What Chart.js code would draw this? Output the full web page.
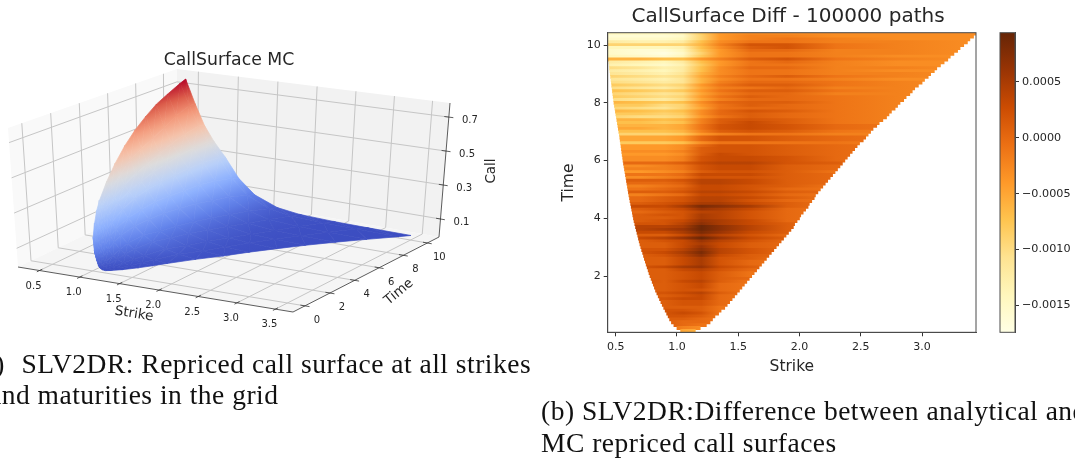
<!DOCTYPE html>
<html lang="en">
<head>
  <meta charset="UTF-8">
  <title>CallSurface</title>
  <script src="https://cdn.jsdelivr.net/npm/chart.js"></script>
  <style>
    body, html { margin: 0; padding: 0; overflow: hidden; height: 100%; width: 100%; background: #fff; }
    canvas { position: absolute; display: block; filter: blur(0.4px); }
    .caption {
      position: absolute;
      white-space: nowrap;
      font-family: "Liberation Serif", serif;
      font-size: 27.5px;
      letter-spacing: 0.5px;
      line-height: 30px;
      color: #111;
      filter: blur(0.3px);
    }
  </style>
</head>
<body>
  <canvas id="surface" width="530" height="345" style="left:0;top:0"></canvas>
  <canvas id="diff" width="430" height="380" style="left:560px;top:0"></canvas>
  <canvas id="colorbar" width="85" height="380" style="left:990px;top:0"></canvas>
  <div class="caption" style="left:-27px;top:349px"><span style="word-spacing:9px">(a) </span>SLV2DR: Repriced call surface at all strikes</div>
  <div class="caption" style="left:-11px;top:380px">and maturities in the grid</div>
  <div class="caption" style="left:541px;top:396px">(b) SLV2DR:Difference between analytical and</div>
  <div class="caption" style="left:541px;top:428px">MC repriced call surfaces</div>

  <script>
    const strikeTicks = [0.5, 1.0, 1.5, 2.0, 2.5, 3.0];
    const timeTicks = [2, 4, 6, 8, 10];
    const colorbarTicks = [0.0005, 0, -0.0005, -0.001, -0.0015];

    // 3d axis ticks
    const surfaceStrikeTicks = [0.5, 1.0, 1.5, 2.0, 2.5, 3.0, 3.5];
    const surfaceTimeTicks = [0, 2, 4, 6, 8, 10];
    const surfaceCallTicks = [0.1, 0.3, 0.5, 0.7];

    // Time of each heatmap row, top to bottom
    const rowTimes = [10.4,10.3,10.2,10.1,10.0,9.9,9.8,9.7,9.6,9.5,9.4,9.3,9.2,9.1,9.0,8.9,8.8,8.7,8.6,8.5,8.4,8.3,8.2,8.1,8.0,
      7.9,7.8,7.7,7.6,7.5,7.4,7.3,7.2,7.1,7.0,6.9,6.8,6.7,6.6,6.5,6.4,6.3,6.2,6.1,6.0,5.9,5.8,5.7,5.6,5.5,5.4,5.3,5.2,5.1,5.0,
      4.9,4.8,4.7,4.6,4.5,4.4,4.3,4.2,4.1,4.0,3.9,3.8,3.7,3.6,3.5,3.4,3.3,3.2,3.1,3.0,2.9,2.8,2.7,2.6,2.5,2.4,2.3,2.2,2.1,2.0,
      1.9,1.8,1.7,1.6,1.5,1.4,1.3,1.2,1.1,1.0,0.9,0.8,0.7,0.6,0.5,0.4,0.3,0.2,0.1];

    // Lowest and highest strike on each row
    const rowLow = [.44,.44,.44,.44,.44,.44,.44,.44,.44,.44,.445,.448,.45,.453,.456,.459,.462,.465,.468,.471,.474,.477,.48,.483,.486,
      .49,.494,.498,.502,.506,.51,.514,.518,.522,.526,.53,.534,.537,.54,.544,.547,.55,.553,.557,.56,.564,.568,.572,.576,.58,.584,.588,.592,.596,.60,
      .604,.608,.613,.617,.622,.627,.631,.636,.64,.645,.65,.656,.662,.668,.674,.68,.686,.692,.698,.705,.712,.72,.727,.734,.742,.749,.757,.765,.772,.78,
      .789,.798,.807,.816,.825,.836,.847,.858,.869,.88,.892,.904,.916,.928,.94,.955,.975,1.0,1.03];
    const rowHigh = [3.44,3.42,3.39,3.37,3.34,3.31,3.29,3.26,3.23,3.21,3.18,3.15,3.12,3.10,3.07,3.05,3.02,3.0,2.97,2.94,2.92,2.90,2.87,2.85,2.82,
      2.80,2.78,2.75,2.73,2.71,2.68,2.65,2.63,2.60,2.58,2.56,2.54,2.52,2.49,2.47,2.45,2.43,2.41,2.39,2.37,2.35,2.33,2.31,2.29,2.27,2.25,2.23,2.21,2.19,2.17,
      2.15,2.13,2.12,2.10,2.08,2.07,2.05,2.03,2.01,2.0,1.98,1.96,1.95,1.93,1.91,1.89,1.87,1.85,1.83,1.81,1.79,1.77,1.75,1.73,1.71,1.69,1.67,1.65,1.63,1.61,
      1.59,1.57,1.55,1.53,1.51,1.49,1.47,1.45,1.43,1.41,1.39,1.36,1.34,1.31,1.29,1.27,1.24,1.19,1.15];

    // Strikes of the diff columns
    const diffStrikes = [0.45, 0.7, 0.9, 1.05, 1.2, 1.35, 1.6, 1.9, 2.3, 2.8, 3.44];

    // Diff values in units of 1e-4, one line per row of rowTimes
    const diffRows = [
      [-14,-14,-14,-13,-8,-4,-3,-3,-3,-3,-3],
      [-16,-16,-16,-15,-9,-4,-2,-2,-3,-3,-3],
      [-15,-15,-15,-14,-9,-4,-2,-1,-2,-3,-3],
      [-12,-13,-13,-12,-7,-3,-1,-1,-2,-2,-3],
      [-9,-9,-9,-9,-6,-2,2,2,-1,-2,-3],
      [-14,-14,-14,-13,-7,-3,1,2,-1,-2,-3],
      [-15,-16,-16,-14,-8,-4,0,0,-2,-2,-3],
      [-15,-16,-17,-15,-9,-4,-1,-1,-2,-2,-3],
      [-14,-15,-16,-14,-8,-4,-1,-1,-2,-3,-3],
      [-6,-6,-7,-7,-4,-2,1,2,-1,-2,-3],
      [-12,-13,-14,-12,-7,-4,-1,0,-2,-3,-3],
      [-13,-14,-15,-13,-8,-4,-1,-1,-2,-3,-3],
      [-10,-11,-13,-12,-7,-3,0,0,-2,-2,-3],
      [-12,-13,-14,-12,-7,-3,-1,-1,-2,-3,-3],
      [-11,-12,-13,-11,-6,-3,-1,-1,-2,-2,-3],
      [-9,-10,-11,-10,-5,-2,0,1,-1,-2,-3],
      [-11,-12,-13,-11,-6,-3,-1,-1,-2,-3,-3],
      [-10,-11,-12,-11,-6,-2,0,0,-1,-2,-3],
      [-8,-9,-10,-9,-4,-1,1,1,-1,-2,-3],
      [-10,-11,-12,-10,-5,-2,-1,0,-2,-2,-3],
      [-7,-8,-9,-8,-4,-1,1,1,-1,-2,-3],
      [-9,-10,-11,-10,-5,-2,0,0,-2,-2,-3],
      [-8,-9,-10,-9,-4,-1,1,0,-1,-2,-3],
      [-10,-11,-12,-10,-5,-2,0,0,-1,-2,-3],
      [-6,-7,-8,-7,-3,0,1,1,-1,-2,-3],
      [-8,-8,-10,-9,-4,-1,1,0,-1,-2,-3],
      [-9,-10,-11,-9,-5,-1,0,0,-1,-2,-3],
      [-6,-7,-8,-7,-3,0,2,1,-1,-2,-3],
      [-8,-8,-9,-8,-3,0,1,0,-1,-2,-3],
      [-9,-10,-10,-9,-4,-1,1,0,-1,-2,-3],
      [-6,-6,-7,-6,-2,1,2,1,-1,-2,-3],
      [-7,-7,-8,-7,-2,1,3,1,-1,-2,-3],
      [-6,-6,-6,-5,-1,2,3,2,0,-1,-3],
      [-5,-5,-6,-5,-1,2,3,2,0,-1,-3],
      [-7,-7,-7,-6,-2,1,2,1,-1,-2,-3],
      [-9,-9,-9,-8,-4,-2,-1,-1,-2,-2,-3],
      [-5,-5,-5,-4,0,2,2,1,0,-1,-3],
      [-5,-5,-5,-4,0,2,2,1,0,-1,-3],
      [-8,-8,-8,-7,-3,-1,-1,-1,-1,-2,-3],
      [-4,-4,-4,-3,0,2,2,1,0,-1,-3],
      [-4,-4,-4,-3,1,2,2,1,0,-1,-3],
      [-3,-3,-3,-2,1,2,2,1,0,-1,-3],
      [-4,-4,-4,-3,1,3,2,1,0,-1,-3],
      [-3,-3,-3,-2,2,3,3,2,0,-1,-3],
      [-3,-3,-3,-2,2,3,3,2,0,-1,-3],
      [0,0,0,1,3,4,4,2,1,-1,-3],
      [-3,-3,-2,-1,2,3,3,1,0,-1,-3],
      [-2,-2,-2,-1,2,3,3,1,0,-1,-3],
      [-4,-4,-3,-2,1,2,2,1,-1,-1,-3],
      [-1,-1,-1,0,3,3,3,1,0,-1,-3],
      [-3,-3,-2,-1,2,2,2,1,0,-1,-3],
      [1,1,1,2,4,4,3,1,0,-1,-3],
      [0,0,0,1,4,4,3,1,0,-1,-3],
      [-2,-2,-1,0,3,3,2,1,-1,-1,-3],
      [-1,-1,0,1,3,3,2,0,-1,-1,-3],
      [1,1,1,2,4,4,3,1,0,-1,-3],
      [-2,-2,-1,0,3,3,2,0,-1,-1,-3],
      [0,0,1,2,4,4,3,1,-1,-1,-3],
      [0,0,1,2,4,4,2,0,-1,-1,-3],
      [1,1,2,3,5,5,3,1,-1,-1,-3],
      [3,3,3,5,8,7,5,1,-1,-1,-3],
      [1,1,2,3,6,5,3,0,-1,-1,-3],
      [0,0,1,2,4,4,2,0,-1,-1,-3],
      [1,1,2,2,5,4,2,0,-1,-1,-3],
      [0,1,1,2,5,4,2,0,-1,-1,-3],
      [1,1,2,3,6,5,3,0,-1,-1,-3],
      [2,2,2,4,7,5,3,1,-1,-1,-3],
      [3,4,4,5,9,7,4,1,-1,-1,-3],
      [4,4,5,6,9,7,4,1,-1,-1,-3],
      [2,3,3,5,8,6,3,1,-1,-1,-3],
      [0,1,1,3,6,4,2,0,-1,-2,-3],
      [3,3,4,6,9,6,3,1,-1,-1,-3],
      [1,1,2,3,6,4,2,0,-1,-2,-3],
      [1,1,1,3,5,3,1,0,-1,-2,-3],
      [1,1,1,3,6,3,1,0,-1,-2,-3],
      [2,2,2,4,7,4,2,0,-1,-2,-3],
      [2,2,3,5,8,4,2,0,-1,-2,-3],
      [1,1,2,4,7,3,1,0,-1,-2,-3],
      [1,1,1,3,5,2,1,-1,-1,-2,-3],
      [1,1,1,3,5,2,0,-1,-1,-2,-3],
      [1,1,1,3,5,2,0,-1,-1,-2,-3],
      [2,2,3,5,6,3,1,-1,-1,-2,-3],
      [1,1,1,3,4,2,0,-1,-2,-2,-3],
      [1,1,1,2,3,1,-1,-1,-2,-2,-3],
      [1,1,1,2,3,1,-1,-1,-2,-2,-3],
      [1,1,1,2,3,1,0,-1,-2,-2,-3],
      [2,2,1,3,4,1,-1,-1,-2,-2,-3],
      [1,1,1,2,3,0,-1,-1,-2,-2,-3],
      [1,1,1,2,3,0,-1,-1,-2,-2,-3],
      [1,1,1,2,2,0,-1,-1,-2,-2,-3],
      [2,2,2,3,4,1,-1,-1,-2,-2,-3],
      [1,1,1,2,3,0,-1,-1,-2,-2,-3],
      [2,2,2,3,3,0,-1,-1,-2,-2,-3],
      [1,1,1,2,2,0,-1,-1,-2,-2,-3],
      [1,1,1,2,2,0,-1,-1,-2,-2,-3],
      [1,1,1,1,1,-1,-1,-1,-2,-2,-3],
      [2,2,2,2,1,-1,-1,-1,-2,-2,-3],
      [2,2,2,3,2,-1,-1,-1,-2,-2,-3],
      [2,2,2,2,1,-1,-1,-1,-2,-2,-3],
      [1,1,1,1,0,-1,-1,-1,-2,-2,-3],
      [1,1,1,0,0,-1,-1,-1,-2,-2,-3],
      [1,1,1,0,-1,-1,-1,-1,-2,-2,-3],
      [1,1,0,-2,-3,-2,-1,-1,-2,-2,-3],
      [1,1,-1,-5,-6,-3,-1,-1,-2,-2,-3]
    ];

    // Call surface, sampled at these times and at these fractions of the way from rowLow to rowHigh
    const surfaceTimes = [10.4, 10, 9, 8, 7, 6, 5, 4, 3, 2, 1.5, 1, 0.5, 0.2, 0.1];
    const surfaceFractions = [0, .04, .08, .12, .17, .23, .3, .4, .5, .65, .8, 1];
    const surfaceCalls = [
      [.75,.60,.47,.38,.29,.17,.085,.03,.012,.005,.003,.002],
      [.735,.60,.48,.39,.30,.185,.095,.035,.014,.006,.003,.002],
      [.70,.57,.46,.38,.305,.20,.115,.05,.02,.008,.004,.002],
      [.67,.53,.44,.37,.30,.21,.125,.06,.026,.01,.005,.003],
      [.63,.50,.41,.355,.295,.21,.14,.07,.035,.013,.007,.003],
      [.58,.47,.385,.34,.285,.21,.145,.08,.045,.02,.009,.004],
      [.52,.44,.36,.32,.275,.21,.15,.085,.055,.025,.012,.005],
      [.45,.385,.33,.295,.26,.20,.15,.09,.06,.03,.015,.007],
      [.38,.33,.295,.265,.23,.185,.145,.10,.07,.04,.022,.01],
      [.31,.28,.25,.225,.195,.16,.125,.085,.058,.03,.017,.008],
      [.27,.245,.22,.195,.17,.135,.105,.07,.047,.025,.013,.006],
      [.22,.2,.175,.155,.13,.105,.08,.052,.034,.018,.009,.005],
      [.16,.145,.125,.11,.09,.07,.052,.033,.02,.01,.006,.004],
      [.10,.09,.08,.068,.054,.04,.028,.017,.01,.005,.004,.003],
      [.08,.07,.063,.053,.043,.032,.022,.013,.008,.005,.004,.003]
    ];

    const diffMin = -0.00174, diffMax = 0.00094;
    const ylOrBr = ['#ffffe5','#fff7bc','#fee391','#fec44f','#fe9929','#ec7014','#cc4c02','#993404','#662506'];
    const coolwarm = ['#3b4cc0','#6282ea','#8db0fe','#b9d0f9','#dddcdc','#f5c4ac','#f49a7b','#dc5d4a','#b40426'];
    const textColor = '#262626';
    const fontFamily = '"DejaVu Sans"';

    function hexRgb(h) {
      return [1, 3, 5].map(i => parseInt(h.substr(i, 2), 16));
    }

    function colorAt(map, t) {
      t = Math.min(1, Math.max(0, t));
      const p = t * (map.length - 1);
      const i = Math.min(map.length - 2, Math.floor(p));
      const a = hexRgb(map[i]), b = hexRgb(map[i + 1]);
      const f = p - i;
      return `rgb(${a.map((v, k) => Math.round(v + (b[k] - v) * f)).join(',')})`;
    }

    // ---------- Left: 3d surface, projected onto a hidden x/y scale ----------

    const strikeRange = [0.234, 3.73], timeRange = [-0.95, 10.98], callRange = [-0.006, 0.783];
    // Corners of the floor and of the roof of the box: front left, front right, back right, back left
    const floorCorners = [[18, 267], [293, 312], [439, 237], [177, 191]];
    const roofCorners = [[8, 128], [294, 161], [450, 103], [177, 69]];

    function squareToQuad(q) {
      const [[x0, y0], [x1, y1], [x2, y2], [x3, y3]] = q;
      const dx1 = x1 - x2, dx2 = x3 - x2, sx = x0 - x1 + x2 - x3;
      const dy1 = y1 - y2, dy2 = y3 - y2, sy = y0 - y1 + y2 - y3;
      const det = dx1 * dy2 - dx2 * dy1;
      const g = (sx * dy2 - dx2 * sy) / det;
      const h = (dx1 * sy - sx * dy1) / det;
      const a = x1 - x0 + g * x1, b = x3 - x0 + h * x3;
      const d = y1 - y0 + g * y1, e = y3 - y0 + h * y3;
      return (u, v) => {
        const w = g * u + h * v + 1;
        return [(a * u + b * v + x0) / w, (d * u + e * v + y0) / w];
      };
    }

    const floorMap = squareToQuad(floorCorners);
    const roofMap = squareToQuad(roofCorners);

    // strike, time, call -> x, y on the hidden scales
    function project(k, t, c) {
      const u = (k - strikeRange[0]) / (strikeRange[1] - strikeRange[0]);
      const v = (t - timeRange[0]) / (timeRange[1] - timeRange[0]);
      const w = (c - callRange[0]) / (callRange[1] - callRange[0]);
      const f = floorMap(u, v), r = roofMap(u, v);
      return { x: f[0] + (r[0] - f[0]) * w, y: f[1] + (r[1] - f[1]) * w };
    }

    function lineSet(points, color, width) {
      return { data: points, borderColor: color, borderWidth: width, fill: false };
    }

    function paneSet(points, color) {
      return { data: points.concat([points[0]]), backgroundColor: color, borderColor: color, borderWidth: 0, fill: 'shape' };
    }

    const [k0, k1] = strikeRange, [t0, t1] = timeRange, [c0, c1] = callRange;
    const gridColor = '#c6c6c6', axisColor = '#333333';
    const surfaceSets = [
      paneSet([project(k0, t0, c0), project(k0, t1, c0), project(k0, t1, c1), project(k0, t0, c1)], '#f9f9f9'),
      paneSet([project(k0, t1, c0), project(k1, t1, c0), project(k1, t1, c1), project(k0, t1, c1)], '#f2f2f2'),
      paneSet([project(k0, t0, c0), project(k1, t0, c0), project(k1, t1, c0), project(k0, t1, c0)], '#f5f5f5')
    ];
    surfaceStrikeTicks.forEach(k => {
      surfaceSets.push(lineSet([project(k, t0, c0), project(k, t1, c0), project(k, t1, c1)], gridColor, 1));
    });
    surfaceTimeTicks.forEach(t => {
      surfaceSets.push(lineSet([project(k1, t, c0), project(k0, t, c0), project(k0, t, c1)], gridColor, 1));
    });
    surfaceCallTicks.forEach(c => {
      surfaceSets.push(lineSet([project(k0, t0, c), project(k0, t1, c), project(k1, t1, c)], gridColor, 1));
    });
    surfaceSets.push(lineSet([project(k0, t0, c0), project(k1, t0, c0), project(k1, t1, c0), project(k1, t1, c1)], axisColor, 0.8));
    surfaceStrikeTicks.forEach(k => {
      surfaceSets.push(lineSet([project(k, t0 - 0.2, c0), project(k, t0 + 0.2, c0)], axisColor, 0.8));
    });
    surfaceTimeTicks.forEach(t => {
      surfaceSets.push(lineSet([project(k1 - 0.06, t, c0), project(k1 + 0.06, t, c0)], axisColor, 0.8));
    });
    surfaceCallTicks.forEach(c => {
      surfaceSets.push(lineSet([project(k1 - 0.06, t1, c), project(k1 + 0.06, t1, c)], axisColor, 0.8));
    });

    // Linear gradient that is exact on a triangle whose corners have known call values
    function triangleGradient(chart, tri) {
      const sx = chart.scales.x, sy = chart.scales.y;
      const p = tri.map(q => ({ x: sx.getPixelForValue(q.x), y: sy.getPixelForValue(q.y), c: q.c }));
      const lo = p.reduce((m, q) => (q.c < m.c ? q : m));
      const hi = Math.max(p[0].c, p[1].c, p[2].c);
      // scales have no size yet on the first pass
      if (!p.every(q => Number.isFinite(q.x) && Number.isFinite(q.y))) return 'transparent';
      const dc1 = p[1].c - p[0].c, dc2 = p[2].c - p[0].c;
      const ax = p[1].x - p[0].x, ay = p[1].y - p[0].y;
      const bx = p[2].x - p[0].x, by = p[2].y - p[0].y;
      const det = ax * by - bx * ay;
      if (Math.abs(det) < 1e-6 || hi - lo.c < 1e-6) return colorAt(coolwarm, lo.c / maxCall);
      const gx = (dc1 * by - dc2 * ay) / det;
      const gy = (ax * dc2 - bx * dc1) / det;
      const s = (hi - lo.c) / (gx * gx + gy * gy);
      const grad = chart.ctx.createLinearGradient(lo.x, lo.y, lo.x + gx * s, lo.y + gy * s);
      for (let i = 0; i <= 4; i++) {
        grad.addColorStop(i / 4, colorAt(coolwarm, (lo.c + (hi - lo.c) * i / 4) / maxCall));
      }
      return grad;
    }

    const maxCall = surfaceCalls[0][0];
    function surfacePoint(r, j) {
      const row = rowTimes.indexOf(surfaceTimes[r]);
      const k = rowLow[row] + (rowHigh[row] - rowLow[row]) * surfaceFractions[j];
      const c = surfaceCalls[r][j];
      return Object.assign(project(k, surfaceTimes[r], c), { c });
    }

    function triangleSet(a, b, c) {
      const tri = [a, b, c];
      const paint = ctx => triangleGradient(ctx.chart, tri);
      return { data: [a, b, c, a], backgroundColor: paint, borderColor: paint, borderWidth: 0.7, fill: 'shape' };
    }

    for (let r = 0; r < surfaceTimes.length - 1; r++) {
      for (let j = 0; j < surfaceFractions.length - 1; j++) {
        const a = surfacePoint(r, j), b = surfacePoint(r, j + 1);
        const c = surfacePoint(r + 1, j + 1), d = surfacePoint(r + 1, j);
        surfaceSets.push(triangleSet(a, b, c), triangleSet(a, c, d));
      }
    }

    // Text of the 3d axes
    const surfaceText = {
      id: 'surfaceText',
      afterDraw(chart) {
        const { ctx, scales: { x, y } } = chart;
        const put = (text, pos, dx, dy, size, angle) => {
          ctx.save();
          ctx.translate(x.getPixelForValue(pos.x) + dx, y.getPixelForValue(pos.y) + dy);
          ctx.rotate((angle || 0) * Math.PI / 180);
          ctx.font = `${size}px ${fontFamily}`;
          ctx.fillStyle = textColor;
          ctx.textAlign = 'center';
          ctx.textBaseline = 'middle';
          ctx.fillText(text, 0, 0);
          ctx.restore();
        };
        surfaceStrikeTicks.forEach(k => put(k.toFixed(1), project(k, t0, c0), -6, 15.5, 10));
        surfaceTimeTicks.forEach(t => put(String(t), project(k1, t, c0), 12, 14.5, 10));
        surfaceCallTicks.forEach(c => put(c.toFixed(1), project(k1, t1, c), 21, 3.5, 10));
        put('CallSurface MC', { x: 229, y: 61 }, 0, 0, 17.3);
        put('Strike', { x: 134, y: 314 }, 0, 0, 13.5, 9);
        put('Time', { x: 399, y: 292 }, 0, 0, 13.5, -40);
        put('Call', { x: 491, y: 171 }, 0, 0, 13.5, -90);
      }
    };

    new Chart(document.getElementById('surface'), {
      type: 'line',
      // chart.js paints the first dataset last, the panes have to end up at the back
      data: { datasets: surfaceSets.slice().reverse() },
      options: {
        responsive: false,
        animation: false,
        events: [],
        clip: false,
        elements: { point: { radius: 0 }, line: { tension: 0 } },
        plugins: { legend: { display: false }, tooltip: { enabled: false } },
        scales: {
          x: { type: 'linear', display: false, min: 0, max: 530 },
          y: { type: 'linear', display: false, min: 0, max: 345, reverse: true }
        }
      },
      plugins: [surfaceText]
    });

    // ---------- Right: diff heatmap, one floating bar per row ----------

    const frame = {
      id: 'frame',
      afterDraw(chart) {
        const { ctx, chartArea: a } = chart;
        ctx.save();
        ctx.strokeStyle = '#4a4a4a';
        ctx.lineWidth = 1;
        ctx.strokeRect(a.left, a.top, a.right - a.left, a.bottom - a.top);
        ctx.restore();
      }
    };

    const diffTitle = {
      id: 'diffTitle',
      afterDraw(chart) {
        const { ctx } = chart;
        ctx.save();
        ctx.font = `20px ${fontFamily}`;
        ctx.fillStyle = textColor;
        ctx.textAlign = 'center';
        ctx.textBaseline = 'middle';
        ctx.fillText('CallSurface Diff - 100000 paths', 228, 17);
        ctx.restore();
      }
    };

    function rowGradient(ctx) {
      if (ctx.type !== 'data') return 'transparent';
      const x = ctx.chart.scales.x;
      const x0 = x.getPixelForValue(diffStrikes[0]);
      const x1 = x.getPixelForValue(diffStrikes[diffStrikes.length - 1]);
      if (!Number.isFinite(x0) || !Number.isFinite(x1)) return 'transparent';
      const grad = ctx.chart.ctx.createLinearGradient(x0, 0, x1, 0);
      diffRows[ctx.dataIndex].forEach((v, j) => {
        const offset = (diffStrikes[j] - diffStrikes[0]) / (diffStrikes[diffStrikes.length - 1] - diffStrikes[0]);
        grad.addColorStop(offset, colorAt(ylOrBr, (v * 1e-4 - diffMin) / (diffMax - diffMin)));
      });
      return grad;
    }

    new Chart(document.getElementById('diff'), {
      type: 'bar',
      data: {
        datasets: [{
          data: rowTimes.map((t, i) => ({ x: [rowLow[i], rowHigh[i]], y: t })),
          backgroundColor: rowGradient,
          barThickness: 3.2,
          borderWidth: 0
        }]
      },
      options: {
        indexAxis: 'y',
        responsive: false,
        animation: false,
        events: [],
        layout: { padding: { left: 0, right: 14, top: 32.7, bottom: 0 } },
        plugins: { legend: { display: false }, tooltip: { enabled: false } },
        scales: {
          x: {
            type: 'linear',
            min: 0.435,
            max: 3.44,
            grid: { drawOnChartArea: false, tickLength: 4, color: '#333' },
            border: { color: '#4a4a4a' },
            afterBuildTicks: s => { s.ticks = strikeTicks.map(value => ({ value })); },
            afterFit: s => { s.height = 47.7; },
            ticks: { color: textColor, maxRotation: 0, font: { family: fontFamily, size: 11 }, padding: 4, callback: v => v.toFixed(1) },
            title: { display: true, text: 'Strike', color: textColor, padding: { top: 1 }, font: { family: fontFamily, size: 15.5 } }
          },
          y: {
            type: 'linear',
            offset: false,
            min: 0.05,
            max: 10.43,
            grid: { drawOnChartArea: false, tickLength: 4, color: '#333', offset: false },
            border: { color: '#4a4a4a' },
            afterBuildTicks: s => { s.ticks = timeTicks.map(value => ({ value })); },
            afterFit: s => { s.width = 47.7; },
            ticks: { color: textColor, font: { family: fontFamily, size: 11 }, padding: 3, callback: v => String(v) },
            title: { display: true, text: 'Time', color: textColor, padding: 0, font: { family: fontFamily, size: 15.5 } }
          }
        }
      },
      plugins: [frame, diffTitle]
    });

    // ---------- Colour bar ----------

    function barGradient(ctx) {
      const y = ctx.chart.scales.y;
      const y0 = y.getPixelForValue(diffMin), y1 = y.getPixelForValue(diffMax);
      if (!Number.isFinite(y0) || !Number.isFinite(y1)) return 'transparent';
      const grad = ctx.chart.ctx.createLinearGradient(0, y0, 0, y1);
      ylOrBr.forEach((c, i) => grad.addColorStop(i / (ylOrBr.length - 1), c));
      return grad;
    }

    new Chart(document.getElementById('colorbar'), {
      type: 'bar',
      data: {
        labels: [''],
        datasets: [{
          data: [[diffMin, diffMax]],
          backgroundColor: barGradient,
          barPercentage: 1,
          categoryPercentage: 1,
          borderWidth: 0
        }]
      },
      options: {
        responsive: false,
        animation: false,
        events: [],
        layout: { padding: { left: 10, top: 32.7, bottom: 47.7 } },
        plugins: { legend: { display: false }, tooltip: { enabled: false } },
        scales: {
          x: { display: false },
          y: {
            position: 'right',
            min: diffMin,
            max: diffMax,
            grid: { drawOnChartArea: false, tickLength: 4, color: '#333' },
            border: { color: '#4a4a4a' },
            afterBuildTicks: s => { s.ticks = colorbarTicks.map(value => ({ value })); },
            afterFit: s => { s.width = 60; },
            ticks: {
              color: textColor,
              font: { family: fontFamily, size: 11.2 },
              padding: 3,
              callback: v => (v < 0 ? '\u2212' : '') + Math.abs(v).toFixed(4)
            }
          }
        }
      },
      plugins: [frame]
    });
  </script>
</body>
</html>
